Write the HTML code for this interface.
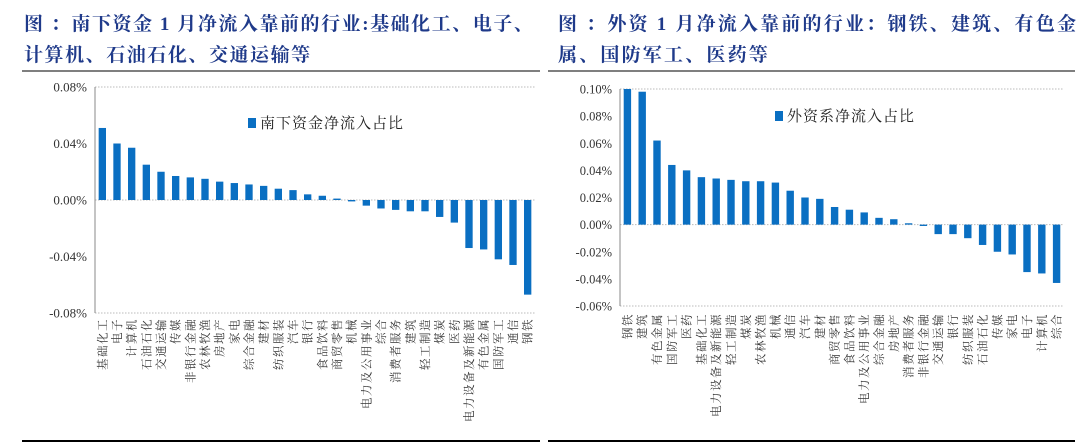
<!DOCTYPE html>
<html><head><meta charset="utf-8">
<style>
body{margin:0;width:1080px;height:448px;background:#fff;overflow:hidden;font-family:"Liberation Serif","Noto Serif CJK SC",serif;}
.title{position:absolute;color:#1f3a8a;font-weight:bold;font-size:19px;line-height:31px;white-space:nowrap;font-family:"Liberation Serif","Noto Serif CJK SC",serif;}
</style></head><body>
<div class="title" style="left:24px;top:9px;letter-spacing:1.55px">图 ：南下资金 1 月净流入靠前的行业:基础化工、电子、<br>计算机、石油石化、交通运输等</div>
<div class="title" style="left:558px;top:9px;letter-spacing:2.2px">图 ：外资 1 月净流入靠前的行业：钢铁、建筑、有色金<br>属、国防军工、医药等</div>
<svg id="svg" width="1080" height="448" style="position:absolute;left:0;top:0">
<line x1="22" y1="71" x2="540" y2="71" stroke="#555" stroke-width="1.5"/>
<line x1="548" y1="71" x2="1075" y2="71" stroke="#555" stroke-width="1.5"/>
<line x1="22" y1="441" x2="540" y2="441" stroke="#000" stroke-width="2"/>
<line x1="548" y1="441" x2="1075" y2="441" stroke="#000" stroke-width="2"/>
</svg>
<script>
const leftCats=["基础化工","电子","计算机","石油石化","交通运输","传媒","非银行金融","农林牧渔","房地产","家电","综合金融","建材","纺织服装","汽车","银行","食品饮料","商贸零售","机械","电力及公用事业","综合","消费者服务","建筑","轻工制造","煤炭","医药","电力设备及新能源","有色金属","国防军工","通信","钢铁"];
const leftVals=[0.051,0.040,0.037,0.025,0.020,0.017,0.016,0.015,0.013,0.012,0.011,0.010,0.008,0.007,0.004,0.003,0.001,-0.001,-0.004,-0.006,-0.007,-0.008,-0.008,-0.012,-0.016,-0.034,-0.035,-0.042,-0.046,-0.067];
const leftTicks=[0.08,0.04,0,-0.04,-0.08];
const rightCats=["钢铁","建筑","有色金属","国防军工","医药","基础化工","电力设备及新能源","轻工制造","煤炭","农林牧渔","机械","通信","汽车","建材","商贸零售","食品饮料","电力及公用事业","综合金融","房地产","消费者服务","非银行金融","交通运输","银行","纺织服装","石油石化","传媒","家电","电子","计算机","综合"];
const rightVals=[0.100,0.098,0.062,0.044,0.040,0.035,0.034,0.033,0.032,0.032,0.031,0.025,0.020,0.019,0.013,0.011,0.009,0.005,0.004,0.001,-0.001,-0.007,-0.007,-0.010,-0.015,-0.020,-0.022,-0.035,-0.036,-0.043];
const rightTicks=[0.10,0.08,0.06,0.04,0.02,0,-0.02,-0.04,-0.06];
const NS="http://www.w3.org/2000/svg";
const svg=document.getElementById('svg');
function mk(t,a){const e=document.createElementNS(NS,t);for(const k in a)e.setAttribute(k,a[k]);svg.appendChild(e);return e;}
function chart(o){
  const y=v=>o.y0+(o.max-v)/(o.max-o.min)*(o.y1-o.y0);
  const band=(o.x1-o.x0)/o.cats.length;
  const x=i=>o.x0+band*i;
  [o.max,0,o.min].forEach(v=>{
    const g=mk('line',{x1:o.x0,x2:o.x1,y1:y(v),y2:y(v),stroke:'#bbb','stroke-dasharray':'1.5,1.5'});
    
    
  });
  const ax=mk('line',{x1:o.x0,x2:o.x0,y1:o.y0,y2:o.y1,stroke:'#888'});
  
  
  o.ticks.forEach(v=>{
    const t=mk('text',{x:o.x0-8,y:y(v)+4.5,'text-anchor':'end','font-size':o.tickFont,fill:'#333'});
    t.textContent=v.toFixed(2)+'%';
    
    
  });
  o.vals.forEach((v,i)=>{
    const bw=band*0.5;
    const r=mk('rect',{x:x(i)+(band-bw)/2,y:Math.min(y(v),y(0)),width:bw,height:Math.abs(y(v)-y(0)),fill:'#0a6fc2'});
    
    
  });
  o.cats.forEach((c,i)=>{
    const cx=x(i)+band/2+4, ty=o.labelY;
    const t=mk('text',{x:cx,y:ty,'text-anchor':'end','font-size':11.5,'letter-spacing':1.5,fill:'#333',transform:`rotate(-90 ${cx} ${ty})`});
    t.textContent=c;
    
    
  });
  const lr=mk('rect',{x:o.legX,y:o.legY-9,width:8,height:10,fill:'#0a6fc2'});
  
  
  const lt=mk('text',{x:o.legX+12,y:o.legY+1,'font-size':15,'letter-spacing':1,fill:'#222'});
  lt.textContent=o.legend;
  
  
}
chart({cats:leftCats,vals:leftVals,ticks:leftTicks,max:0.08,min:-0.08,x0:95,x1:535,y0:87,y1:313,labelY:318,legX:248,legY:127,legend:'南下资金净流入占比',tickFont:13});
chart({cats:rightCats,vals:rightVals,ticks:rightTicks,max:0.10,min:-0.06,x0:620,x1:1064,y0:89,y1:306,labelY:313,legX:775,legY:120,legend:'外资系净流入占比',tickFont:12.5});
</script>
</body></html>
